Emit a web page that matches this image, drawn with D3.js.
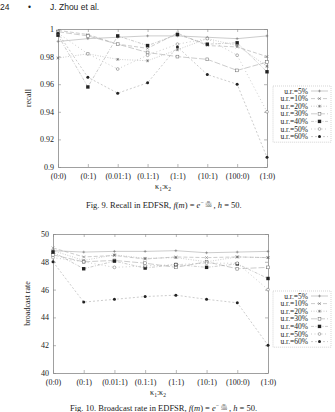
<!DOCTYPE html>
<html>
<head>
<meta charset="utf-8">
<script src="https://cdn.jsdelivr.net/npm/d3@7"></script>
<style>
  body { margin: 0; background: #fff; }
  svg { display: block; }
  text { font-family: "Liberation Serif", "DejaVu Serif", serif; fill: #222; }
</style>
</head>
<body>
<script>
// x categories (kappa1:kappa2)
const categories = ["(0:0)", "(0:1)", "(0.01:1)", "(0.1:1)", "(1:1)", "(10:1)", "(100:0)", "(1:0)"]
const seriesNames = ["u.r.=5%", "u.r.=10%", "u.r.=20%", "u.r.=30%", "u.r.=40%", "u.r.=50%", "u.r.=60%"]

// Fig 9 - recall
const recallTicks = [0.9, 0.92, 0.94, 0.96, 0.98, 1]
const recall5  = [0.991, 0.993, 0.994, 0.995, 0.995, 0.994, 0.993, 0.995]
const recall10 = [0.999, 0.996, 0.989, 0.986, 0.997, 0.988, 0.987, 0.980]
const recall20 = [0.979, 0.982, 0.978, 0.977, 0.985, 0.993, 0.988, 0.973]
const recall30 = [0.998, 0.995, 0.989, 0.983, 0.980, 0.978, 0.970, 0.976]
const recall40 = [0.9955, 0.958, 0.995, 0.988, 0.996, 0.989, 0.990, 0.969]
const recall50 = [0.997, 0.982, 0.971, 0.981, 0.989, 0.993, 0.981, 0.940]
const recall60 = [0.997, 0.965, 0.9535, 0.961, 0.987, 0.967, 0.960, 0.907]

// Fig 10 - broadcast rate
const rateTicks = [40, 42, 44, 46, 48, 50]
const rate5  = [48.8, 48.7, 48.75, 48.75, 48.8, 48.65, 48.7, 48.75]
const rate10 = [49.0, 48.35, 48.45, 48.2, 48.35, 48.3, 48.35, 48.3]
const rate20 = [48.8, 48.1, 48.5, 48.25, 48.3, 48.0, 48.35, 48.3]
const rate30 = [48.5, 48.0, 48.1, 47.9, 47.6, 48.0, 47.5, 47.6]
const rate40 = [48.7, 47.5, 48.05, 47.55, 47.8, 47.6, 47.85, 46.8]
const rate50 = [48.3, 48.0, 47.6, 47.7, 47.8, 47.9, 47.9, 46.0]
const rate60 = [48.0, 45.1, 45.3, 45.5, 45.6, 45.3, 45.05, 42.0]

// gnuplot-ish line styles and point types
const dashes = [null, "4,2", "1,1.5", "6,2", "3,1.5,1,1.5", "1,2.5", "2,2"]
const markers = ["plus", "cross", "star", "square", "fsquare", "circle", "fcircle"]

const svg = d3.select("body").append("svg")
    .attr("width", 335)
    .attr("height", 412)

// page header
svg.append("text").attr("x", 0).attr("y", 10)
    .style("font-family", "Liberation Sans, sans-serif").style("font-size", "8.5px").text("24")
svg.append("text").attr("x", 28).attr("y", 10)
    .style("font-family", "Liberation Sans, sans-serif").style("font-size", "8.5px").text("•")
svg.append("text").attr("x", 50).attr("y", 10)
    .style("font-family", "Liberation Sans, sans-serif").style("font-size", "8.5px").text("J. Zhou et al.")

function drawMarker(g, type, x, y)
{
    const s = 1.4
    const col = "#222"
    if (type == "plus") {
        g.append("path").attr("d", `M${x-s},${y}H${x+s}M${x},${y-s}V${y+s}`).attr("stroke", "#666").attr("stroke-width", 0.5)
    } else if (type == "cross") {
        g.append("path").attr("d", `M${x-s},${y-s}L${x+s},${y+s}M${x-s},${y+s}L${x+s},${y-s}`).attr("stroke", "#666").attr("stroke-width", 0.5)
    } else if (type == "star") {
        g.append("path").attr("d", `M${x-s},${y}H${x+s}M${x},${y-s}V${y+s}M${x-s},${y-s}L${x+s},${y+s}M${x-s},${y+s}L${x+s},${y-s}`).attr("stroke", "#666").attr("stroke-width", 0.5)
    } else if (type == "square") {
        g.append("rect").attr("x", x-s).attr("y", y-s).attr("width", 2*s).attr("height", 2*s).attr("fill", "#fff").attr("stroke", "#666").attr("stroke-width", 0.5)
    } else if (type == "fsquare") {
        g.append("rect").attr("x", x-1.7).attr("y", y-1.7).attr("width", 3.4).attr("height", 3.4).attr("fill", col)
    } else if (type == "circle") {
        g.append("circle").attr("cx", x).attr("cy", y).attr("r", s).attr("fill", "#fff").attr("stroke", "#666").attr("stroke-width", 0.5)
    } else {
        g.append("circle").attr("cx", x).attr("cy", y).attr("r", 1.5).attr("fill", col)
    }
}

function drawChart(cfg)
{
    const g = svg.append("g")

    const xScale = d3.scalePoint()
        .domain(categories)
        .range([cfg.left, cfg.right])

    const yScale = d3.scaleLinear()
        .domain([cfg.ticks[0], cfg.ticks[cfg.ticks.length - 1]])
        .range([cfg.bottom, cfg.top])

    // axes, ticks pointing inward, mirrored on top and right
    const axes = [
        [d3.axisBottom(xScale).tickSizeInner(-3).tickPadding(6), `translate(0,${cfg.bottom})`],
        [d3.axisTop(xScale).tickSizeInner(-3).tickFormat(""), `translate(0,${cfg.top})`],
        [d3.axisLeft(yScale).tickValues(cfg.ticks).tickSizeInner(-3).tickPadding(4).tickFormat(cfg.fmt), `translate(${cfg.left},0)`],
        [d3.axisRight(yScale).tickValues(cfg.ticks).tickSizeInner(-3).tickFormat(""), `translate(${cfg.right},0)`]
    ]
    axes.forEach(([ax, tr]) => {
        const a = g.append("g").attr("transform", tr).call(ax.tickSizeOuter(0))
        a.select(".domain").attr("stroke", "#888").attr("stroke-width", 0.8)
        a.selectAll(".tick line").attr("stroke", "#888").attr("stroke-width", 0.6)
        a.selectAll("text").style("font-family", "Liberation Serif, serif").style("font-size", "8px").attr("fill", "#333")
    })

    // axis titles
    g.append("text")
        .attr("transform", `translate(${cfg.yLabelX},${(cfg.top + cfg.bottom) / 2}) rotate(-90)`)
        .attr("text-anchor", "middle")
        .style("font-size", "8px")
        .text(cfg.yLabel)

    const xt = g.append("text")
        .attr("x", cfg.xLabelX).attr("y", cfg.xLabelY)
        .attr("text-anchor", "middle")
        .style("font-size", "8px")
    xt.append("tspan").text("κ")
    xt.append("tspan").attr("dy", 2).style("font-size", "5.5px").text("1")
    xt.append("tspan").attr("dy", -2).text(":κ")
    xt.append("tspan").attr("dy", 2).style("font-size", "5.5px").text("2")

    // series lines and points
    cfg.series.forEach((vals, i) => {
        g.append("path")
            .datum(vals)
            .attr("fill", "none")
            .attr("stroke", "#aaa")
            .attr("stroke-width", 0.6)
            .attr("stroke-dasharray", dashes[i])
            .attr("d", d3.line()
                .x((d, j) => xScale(categories[j]))
                .y((d) => yScale(d)))
    })
    cfg.series.forEach((vals, i) => {
        vals.forEach((v, j) => drawMarker(g, markers[i], xScale(categories[j]), yScale(v)))
    })

    // legend
    const lx = cfg.legendX, ly = cfg.legendY, rowH = 7.6
    g.append("rect")
        .attr("x", lx).attr("y", ly)
        .attr("width", 58).attr("height", rowH * seriesNames.length + 3)
        .attr("fill", "#fff")
        .attr("stroke", "#aaa").attr("stroke-width", 0.5).attr("stroke-dasharray", "1,1")
    seriesNames.forEach((name, i) => {
        const yy = ly + 5 + i * rowH
        g.append("text")
            .attr("x", lx + 35).attr("y", yy + 2.6)
            .attr("text-anchor", "end")
            .style("font-size", "7.5px")
            .attr("fill", "#333")
            .text(name)
        g.append("line")
            .attr("x1", lx + 38).attr("x2", lx + 55)
            .attr("y1", yy).attr("y2", yy)
            .attr("stroke", "#aaa").attr("stroke-width", 0.6)
            .attr("stroke-dasharray", dashes[i])
        drawMarker(g, markers[i], lx + 46.5, yy)
    })

    // caption
    const cap = g.append("text")
        .attr("x", cfg.capX).attr("y", cfg.capY)
        .style("font-size", "8.5px")
    cap.append("tspan").text(cfg.caption + ", ")
    cap.append("tspan").style("font-style", "italic").text("f")
    cap.append("tspan").text("(")
    cap.append("tspan").style("font-style", "italic").text("m")
    cap.append("tspan").text(") = ")
    cap.append("tspan").style("font-style", "italic").text("e")
    cap.append("tspan").attr("dy", -4).style("font-size", "5.5px").text("−")
    const before = cap.node().getComputedTextLength()
    cap.append("tspan").attr("dy", 4).attr("dx", 10).text(", ")
    cap.append("tspan").style("font-style", "italic").text("h")
    cap.append("tspan").text(" = 50.")
    // tiny stacked fraction m/500 in the exponent
    const fx = cfg.capX + before + 5
    g.append("text").attr("x", fx).attr("y", cfg.capY - 5.5).attr("text-anchor", "middle")
        .style("font-size", "4px").style("font-style", "italic").text("m")
    g.append("line").attr("x1", fx - 3).attr("x2", fx + 3)
        .attr("y1", cfg.capY - 4.8).attr("y2", cfg.capY - 4.8)
        .attr("stroke", "#222").attr("stroke-width", 0.3)
    g.append("text").attr("x", fx).attr("y", cfg.capY - 1.3).attr("text-anchor", "middle")
        .style("font-size", "4px").text("500")
}

drawChart({
    left: 58, right: 267, top: 29, bottom: 167,
    ticks: recallTicks, fmt: (d) => d == 1 ? "1" : d3.format(".2f")(d).replace(/^0\.90$/, "0.9"),
    yLabel: "recall", yLabelX: 31,
    xLabelX: 163, xLabelY: 189,
    series: [recall5, recall10, recall20, recall30, recall40, recall50, recall60],
    legendX: 273, legendY: 86,
    caption: "Fig. 9.    Recall in EDFSR", capX: 86, capY: 208
})

drawChart({
    left: 53, right: 268, top: 234, bottom: 373,
    ticks: rateTicks, fmt: d3.format("d"),
    yLabel: "broadcast rate", yLabelX: 30,
    xLabelX: 158, xLabelY: 395,
    series: [rate5, rate10, rate20, rate30, rate40, rate50, rate60],
    legendX: 273, legendY: 291,
    caption: "Fig. 10.    Broadcast rate in EDFSR", capX: 70, capY: 411
})
</script>
</body>
</html>
